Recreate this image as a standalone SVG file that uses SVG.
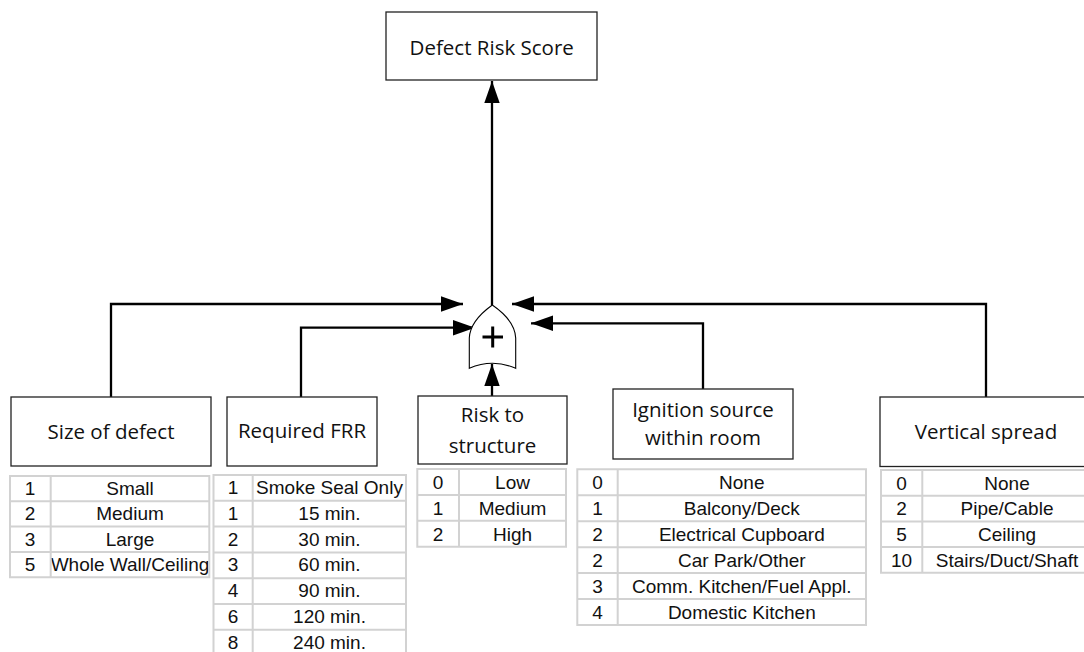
<svg xmlns="http://www.w3.org/2000/svg" width="1084" height="652" viewBox="0 0 1084 652">
<style>
.box{fill:#fff;stroke:#222;stroke-width:1.3}
.hdr{font-family:"Open Sans","Liberation Sans",sans-serif;font-size:20.5px;fill:#111;text-anchor:middle}
.cell{font-family:"Liberation Sans",Arial,sans-serif;font-size:19px;fill:#111;text-anchor:middle}
.grid{fill:none;stroke:#d2d2d2;stroke-width:2}
.conn{fill:none;stroke:#000;stroke-width:2.3}
.gate{fill:#fff;stroke:#000;stroke-width:1.1}
</style>
<defs>
<marker id="ah" markerUnits="userSpaceOnUse" markerWidth="22" markerHeight="16" viewBox="0 0 20 14" refX="20" refY="7" orient="auto">
<path d="M0,0 L20,7 L0,14 Z" fill="#000"/>
</marker>
</defs>
<rect width="1084" height="652" fill="#fff"/>

<g id="connectors">
<path class="conn" d="M492,305 V81" marker-end="url(#ah)"/>
<path class="conn" d="M111,397 V304 H463" marker-end="url(#ah)"/>
<path class="conn" d="M301,397 V327.7 H475" marker-end="url(#ah)"/>
<path class="conn" d="M492,396 V364" marker-end="url(#ah)"/>
<path class="conn" d="M703,389 V323.3 H531" marker-end="url(#ah)"/>
<path class="conn" d="M986,397 V304 H512" marker-end="url(#ah)"/>
</g>

<g id="defect-risk-score">
<rect class="box" x="386" y="12" width="211" height="68"/>
<text class="hdr" x="491.7" y="55">Defect Risk Score</text>
</g>

<g id="sum-gate">
<path class="gate" d="M492.3,305 C484,311 470,322 469.3,338 L469.3,368.3 Q492.5,358.3 515.7,368.3 L515.7,338 C515,322 501,311 492.3,305 Z"/>
<path d="M482.5,337 H503 M492.7,326.5 V347.5" stroke="#000" stroke-width="3" fill="none"/>
</g>

<g id="size-of-defect">
<rect class="box" x="11" y="397" width="200" height="69"/>
<text class="hdr" x="111" y="439.3">Size of defect</text>
<g class="cell">
<text x="30" y="495">1</text><text x="130" y="495">Small</text>
<text x="30" y="520.3">2</text><text x="130" y="520.3">Medium</text>
<text x="30" y="545.6">3</text><text x="130" y="545.6">Large</text>
<text x="30" y="570.9">5</text><text x="130" y="570.9">Whole Wall/Ceiling</text>
</g>
<path class="grid" d="M10,476 H209.3 V577.2 H10 Z M50.7,476 V577.2 M10,501.3 H209.3 M10,526.6 H209.3 M10,551.9 H209.3"/>
</g>

<g id="required-frr">
<rect class="box" x="227" y="397" width="150" height="69"/>
<text class="hdr" x="302" y="438.3">Required FRR</text>
<g class="cell">
<text x="233" y="494">1</text><text x="329.5" y="494">Smoke Seal Only</text>
<text x="233" y="519.8">1</text><text x="329.5" y="519.8">15 min.</text>
<text x="233" y="545.6">2</text><text x="329.5" y="545.6">30 min.</text>
<text x="233" y="571.4">3</text><text x="329.5" y="571.4">60 min.</text>
<text x="233" y="597.2">4</text><text x="329.5" y="597.2">90 min.</text>
<text x="233" y="623">6</text><text x="329.5" y="623">120 min.</text>
<text x="233" y="648.8">8</text><text x="329.5" y="648.8">240 min.</text>
</g>
<path class="grid" d="M213.5,475 H406 V655.6 H213.5 Z M252.7,475 V655.6 M213.5,500.8 H406 M213.5,526.6 H406 M213.5,552.4 H406 M213.5,578.2 H406 M213.5,604 H406 M213.5,629.8 H406"/>
</g>

<g id="risk-to-structure">
<rect class="box" x="418" y="396" width="149" height="68"/>
<text class="hdr" x="492.5" y="422">Risk to</text>
<text class="hdr" x="492.5" y="453">structure</text>
<g class="cell">
<text x="438" y="488.8">0</text><text x="512.5" y="488.8">Low</text>
<text x="438" y="514.7">1</text><text x="512.5" y="514.7">Medium</text>
<text x="438" y="540.6">2</text><text x="512.5" y="540.6">High</text>
</g>
<path class="grid" d="M417.3,469 H566 V546.7 H417.3 Z M459,469 V546.7 M417.3,494.9 H566 M417.3,520.8 H566"/>
</g>

<g id="ignition-source">
<rect class="box" x="613" y="389" width="180" height="70"/>
<text class="hdr" x="703" y="416.7">Ignition source</text>
<text class="hdr" x="703" y="445">within room</text>
<g class="cell">
<text x="597.5" y="489.3">0</text><text x="741.8" y="489.3">None</text>
<text x="597.5" y="515.25">1</text><text x="741.8" y="515.25">Balcony/Deck</text>
<text x="597.5" y="541.2">2</text><text x="741.8" y="541.2">Electrical Cupboard</text>
<text x="597.5" y="567.15">2</text><text x="741.8" y="567.15">Car Park/Other</text>
<text x="597.5" y="593.1">3</text><text x="741.8" y="593.1">Comm. Kitchen/Fuel Appl.</text>
<text x="597.5" y="619.05">4</text><text x="741.8" y="619.05">Domestic Kitchen</text>
</g>
<path class="grid" d="M577.3,469.3 H866 V625 H577.3 Z M617.7,469.3 V625 M577.3,495.25 H866 M577.3,521.2 H866 M577.3,547.15 H866 M577.3,573.1 H866 M577.3,599.05 H866"/>
</g>

<g id="vertical-spread">
<rect class="box" x="880" y="397" width="212" height="69.5"/>
<text class="hdr" x="986" y="439.3">Vertical spread</text>
<g class="cell">
<text x="901.5" y="489.5">0</text><text x="1007" y="489.5">None</text>
<text x="901.5" y="515.2">2</text><text x="1007" y="515.2">Pipe/Cable</text>
<text x="901.5" y="540.9">5</text><text x="1007" y="540.9">Ceiling</text>
<text x="901.5" y="566.6">10</text><text x="1007" y="566.6">Stairs/Duct/Shaft</text>
</g>
<path class="grid" d="M881,470 H1094 V572.8 H881 Z M922.3,470 V572.8 M881,495.7 H1094 M881,521.4 H1094 M881,547.1 H1094"/>
</g>
</svg>
